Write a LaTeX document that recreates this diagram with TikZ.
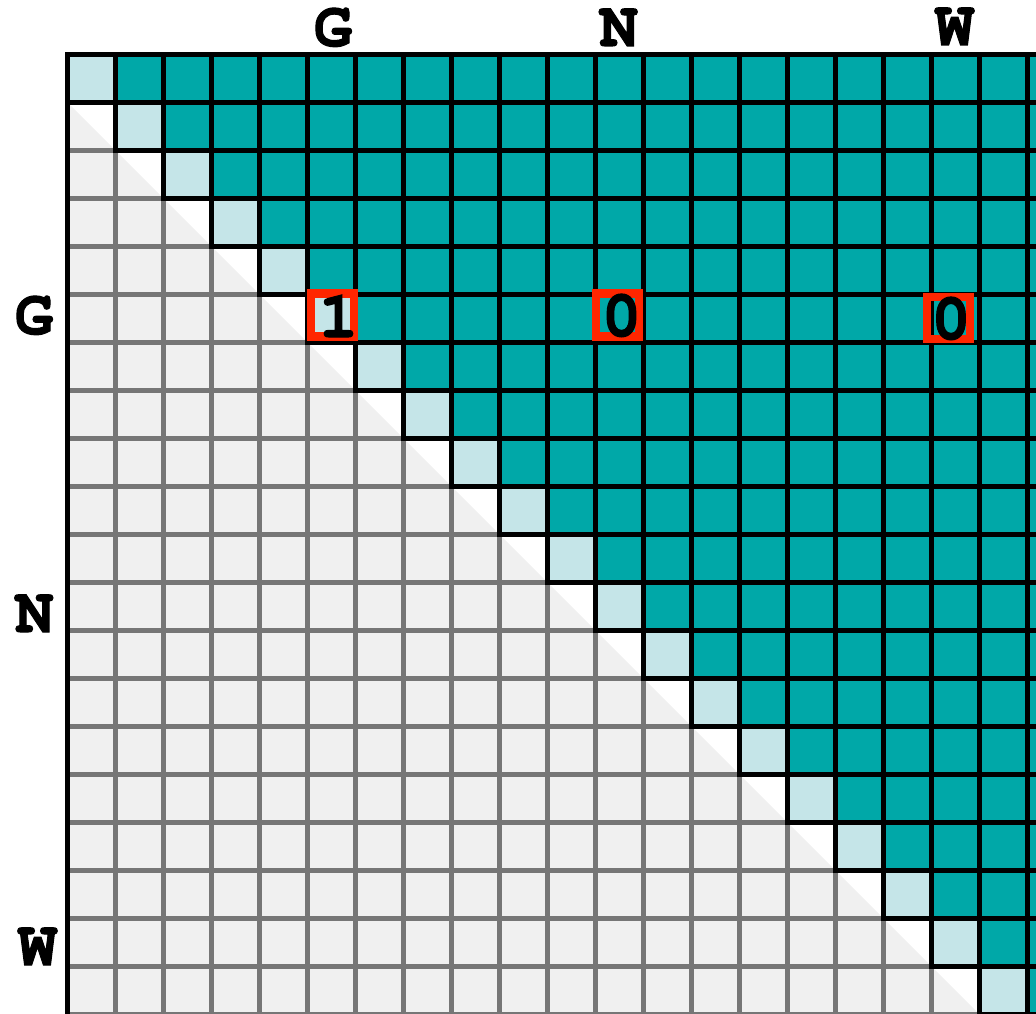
\documentclass[tikz,border=0pt]{standalone}
\usepackage{fontspec}
\newfontfamily\curfont[FakeBold=1.6]{texgyrecursor-bold.otf}
\definecolor{cellteal}{RGB}{0,168,168}
\definecolor{diagblue}{RGB}{197,229,232}
\definecolor{lowgray}{RGB}{240,240,240}
\definecolor{gridgray}{RGB}{118,118,118}
\definecolor{hired}{RGB}{255,38,0}
\tikzset{
  grayline/.style={draw=gridgray, line width=5pt, line cap=rect},
  blackline/.style={draw=black, line width=5pt, line cap=rect},
  cellbox/.style={draw=black, line width=5pt},
  redbox/.style={draw=hired, line width=8.5pt},
  axislabel/.style={font=\curfont\fontsize{64}{64}\selectfont, anchor=base, inner sep=0pt, text height=37pt, text depth=0pt},
  digit/.style={font=\curfont\fontsize{66}{66}\selectfont, anchor=base, inner sep=0pt, text height=40pt, text depth=0pt},
}
\begin{document}
\begin{tikzpicture}[x=1pt,y=-1pt]
\useasboundingbox (0,0) rectangle (1036,1014);
\begin{scope}
  \clip (0,0) rectangle (1036,1014);
  % lower light-gray triangle
  \fill[lowgray] (67.5,102.5) -- (1075.5,1110.5) -- (67.5,1110.5) -- cycle;
  % gray grid lines of the lower part
  \foreach \k in {1,...,21} {
    \draw[grayline] (67.5,54.5+48*\k) -- (67.5+48*\k,54.5+48*\k);
    \draw[grayline] (67.5+48*\k,54.5+48*\k) -- (67.5+48*\k,1110);
  }
  % upper cells
  \foreach \i in {0,...,19} {
    \foreach \j in {\i,...,20} {
      \ifnum\j=\i\relax
        \fill[diagblue] (67.5+48*\j,54.5+48*\i) rectangle ++(48,48);
      \else
        \fill[cellteal] (67.5+48*\j,54.5+48*\i) rectangle ++(48,48);
      \fi
    }
  }
  \foreach \i in {0,...,19} {
    \foreach \j in {\i,...,20} {
      \draw[cellbox] (67.5+48*\j,54.5+48*\i) rectangle ++(48,48);
    }
  }
  % outer border
  \draw[blackline] (67.5,1110) -- (67.5,54.5) -- (1110,54.5);
\end{scope}
% highlighted entries
\draw[redbox] (311,293.5) rectangle (354,336.5);
\draw[redbox] (596,293.5) rectangle (639,336.5);
\draw[redbox] (927,297) rectangle (970,339);
\node[digit] (v1) at (338.5,337) {1};
\node[digit] (v2) at (621.5,336) {0};
\node[digit] (v3) at (951,339) {0};
% axis labels
\node[axislabel] (tG) at (333,46) {G};
\node[axislabel] (tN) at (618.7,46) {N};
\node[axislabel] (tW) at (954.5,45) {W};
\node[axislabel] (lG) at (34,334) {G};
\node[axislabel] (lN) at (34.3,632) {N};
\node[axislabel] (lW) at (37.5,965) {W};
\end{tikzpicture}
\end{document}
